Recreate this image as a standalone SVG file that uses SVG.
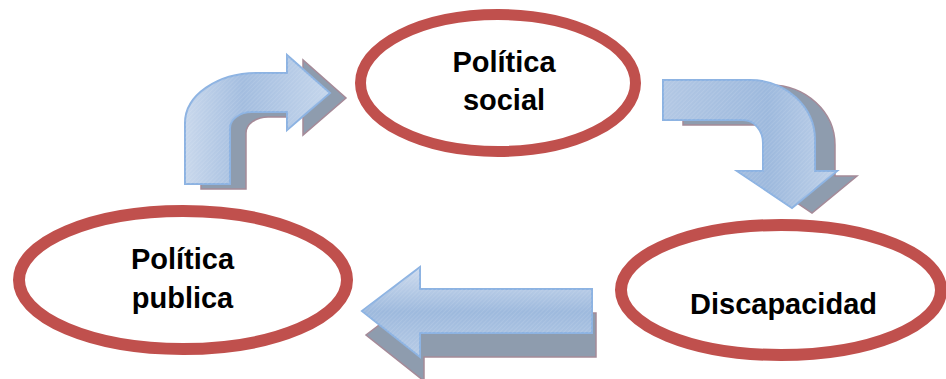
<svg xmlns="http://www.w3.org/2000/svg" width="946" height="379" viewBox="0 0 946 379">
  <defs>
    <style>
      .node ellipse { fill: #ffffff; stroke: #C0504D; }
      .label { font-family: "Liberation Sans", Arial, sans-serif; font-weight: bold; font-size: 29px; fill: #000000; text-anchor: middle; }
      .shadow { fill: #8E9CAE; stroke: #A58A98; stroke-width: 1.5; stroke-linejoin: miter; }
      .arrow { stroke: #8DB3E2; stroke-width: 2; stroke-linejoin: miter; }
      .hatch { fill: url(#hatch); stroke: none; }
    </style>
    <linearGradient id="gradH" x1="0" y1="0" x2="0" y2="1">
      <stop offset="0" stop-color="#CFDCEE"/>
      <stop offset="0.5" stop-color="#9DB9DD"/>
      <stop offset="1" stop-color="#B8CCE6"/>
    </linearGradient>
    <linearGradient id="gradL" x1="0" y1="0" x2="1" y2="0">
      <stop offset="0" stop-color="#C9D8EC"/>
      <stop offset="0.4" stop-color="#A3BDDF"/>
      <stop offset="1" stop-color="#C5D6EC"/>
    </linearGradient>
    <linearGradient id="gradR" x1="0" y1="0" x2="1" y2="0">
      <stop offset="0" stop-color="#B3C8E4"/>
      <stop offset="0.6" stop-color="#9DB9DD"/>
      <stop offset="1" stop-color="#BFD1E9"/>
    </linearGradient>
    <pattern id="hatch" width="3" height="3" patternUnits="userSpaceOnUse" patternTransform="rotate(45)">
      <line x1="0" y1="0" x2="0" y2="3" stroke="#ffffff" stroke-width="0.8" stroke-opacity="0.25"/>
    </pattern>
  </defs>

  <g id="connectors">
    <g id="arrow-publica-to-social">
      <path class="shadow" transform="translate(16,5)" d="M185 184 L185 123 A72 50 0 0 1 257 73 L287 73 L287 55 L330 93 L287 130 L287 112 L252 112 A22 16 0 0 0 230 128 L230 184 Z"/>
      <path class="arrow" fill="url(#gradL)" d="M185 184 L185 123 A72 50 0 0 1 257 73 L287 73 L287 55 L330 93 L287 130 L287 112 L252 112 A22 16 0 0 0 230 128 L230 184 Z"/>
      <path class="hatch" d="M185 184 L185 123 A72 50 0 0 1 257 73 L287 73 L287 55 L330 93 L287 130 L287 112 L252 112 A22 16 0 0 0 230 128 L230 184 Z"/>
    </g>
    <g id="arrow-social-to-discapacidad">
      <path class="shadow" transform="translate(20,5)" d="M663 80 L750 80 A65 60 0 0 1 815 140 L815 171 L837 171 L792 208 L737 171 L763 171 L763 143 A20 23 0 0 0 743 120 L663 120 Z"/>
      <path class="arrow" fill="url(#gradR)" d="M663 80 L750 80 A65 60 0 0 1 815 140 L815 171 L837 171 L792 208 L737 171 L763 171 L763 143 A20 23 0 0 0 743 120 L663 120 Z"/>
      <path class="hatch" d="M663 80 L750 80 A65 60 0 0 1 815 140 L815 171 L837 171 L792 208 L737 171 L763 171 L763 143 A20 23 0 0 0 743 120 L663 120 Z"/>
    </g>
    <g id="arrow-discapacidad-to-publica">
      <path class="shadow" transform="translate(4,24)" d="M592 289 L420 289 L420 267 L362 311 L420 357 L420 333 L592 333 Z"/>
      <path class="arrow" fill="url(#gradH)" d="M592 289 L420 289 L420 267 L362 311 L420 357 L420 333 L592 333 Z"/>
      <path class="hatch" d="M592 289 L420 289 L420 267 L362 311 L420 357 L420 333 L592 333 Z"/>
    </g>
  </g>

  <g id="node-politica-social" class="node">
    <ellipse cx="498" cy="83" rx="137.5" ry="68.5" stroke-width="11"/>
    <text class="label" x="504" y="72">Política</text>
    <text class="label" x="504" y="110">social</text>
  </g>

  <g id="node-politica-publica" class="node">
    <ellipse cx="183" cy="280" rx="164" ry="69" stroke-width="12"/>
    <text class="label" x="182.5" y="269">Política</text>
    <text class="label" x="182.5" y="308">publica</text>
  </g>

  <g id="node-discapacidad" class="node">
    <ellipse cx="781" cy="290" rx="160" ry="65" stroke-width="12"/>
    <text class="label" x="783.5" y="314">Discapacidad</text>
  </g>
</svg>
